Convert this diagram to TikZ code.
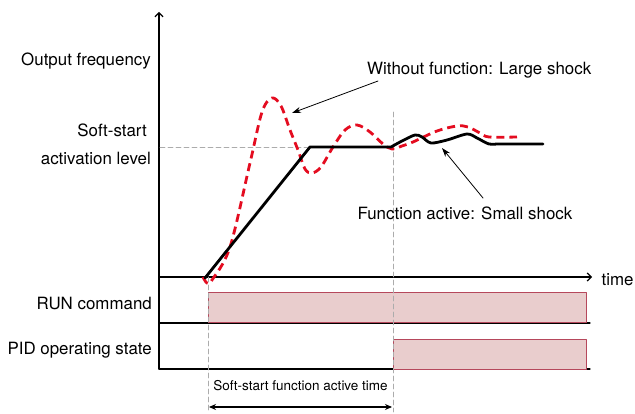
\documentclass[tikz,border=0pt]{standalone}
\usepackage{fontspec}
\setmainfont{TeX Gyre Heros}
\usetikzlibrary{arrows.meta}
\definecolor{shockred}{RGB}{228,12,32}
\definecolor{barfill}{RGB}{233,205,205}
\definecolor{barline}{RGB}{182,72,92}
\begin{document}
\begin{tikzpicture}[x=1pt,y=-1pt,font=\fontsize{16.9}{19}\selectfont, line join=round, line cap=round, >=stealth,
	guide/.style={gray!65,line width=0.9pt,dash pattern=on 5pt off 3pt},
	freq/.style={line width=2.8pt},
	noshock/.style={shockred,line width=2.8pt,line cap=butt,dash pattern=on 8pt off 5pt},
	statebar/.style={fill=barfill,draw=barline,line width=1pt},
	lbl/.style={anchor=east,inner sep=0pt}]
	\useasboundingbox (0,0) rectangle (635,414);
	% axes and timing rows
	\draw[line width=1.2pt,-{Straight Barb[length=4pt,width=8pt]}](159,369)--(159,12);
	\draw[line width=1.2pt,-{Straight Barb[length=4pt,width=8pt]}](159,277)--(592,277)node[right,inner sep=0pt,xshift=9pt,yshift=-3pt](timeLbl){time};
	\foreach \y in {323,369}{
		\draw[line width=1.2pt] (159,\y)--(590,\y);}
	\draw[statebar] (208,293) rectangle (586,323);
	\draw[statebar] (393,339) rectangle (586,369);
	% guide lines
	\draw[guide] (160,147)--(310,147);
	\draw[guide] (208,277)--(208,412);
	\draw[guide] (393,112)--(393,412);
	% left labels
	\node[lbl] (outFreq) at (151,61) {Output frequency};
	\node[lbl] (softA) at (147,130) {Soft-start};
	\node[lbl] (softB) at (151,158) {activation level};
	\node[lbl] (runCmd) at (152,303) {RUN command};
	\node[lbl] (pidState) at (152,350) {PID operating state};
	% output curves
	\draw[noshock] plot[smooth,tension=0.55] coordinates {(203,277) (207,283) (212,280) (230,247) (250,163) (262,112) (272,98) (281,106) (290,130) (298,150) (305,169) (312,173) (321,167) (333,147) (345,130) (357,125) (370,132) (383,144) (392,149) (402,146) (413,142) (437,131) (457,126) (468,127) (480,133) (489,137) (517,137)};
	\draw[freq] (205,278)--(310,147)--(391,147) plot[smooth,tension=0.5] coordinates {(391,147) (402,141) (415,135) (422,137) (431,143) (447,140) (467,134) (477,138) (489,144) (500,144) (543,144)};
	% annotations
	\node[anchor=west,inner sep=0pt] (largeShock) at (367,70) {Without function: Large shock};
	\node[inner sep=0pt] (smallShock) at (465,213) {Function active: Small shock};
	\coordinate (lgTail) at (378,81);
	\coordinate (lgHead) at (292,113);
	\coordinate (smTail) at (483,198);
	\coordinate (smHead) at (442,148);
	\draw[line width=0.8pt,-{Stealth[length=9pt,width=6pt]}] (lgTail)--(lgHead);
	\draw[line width=0.8pt,-{Stealth[length=9pt,width=6pt]}] (smTail)--(smHead);
	% soft-start active time
	\node[inner sep=0pt,font=\fontsize{13.5}{16}\selectfont] (activeTime) at (300.5,386) {Soft-start function active time};
	\coordinate (tStart) at (209,407);
	\coordinate (tEnd) at (392,407);
	\draw[line width=1.4pt,{Stealth[length=7pt,width=6pt]}-{Stealth[length=7pt,width=6pt]}] (tStart)--(tEnd);
\end{tikzpicture}
\end{document}
